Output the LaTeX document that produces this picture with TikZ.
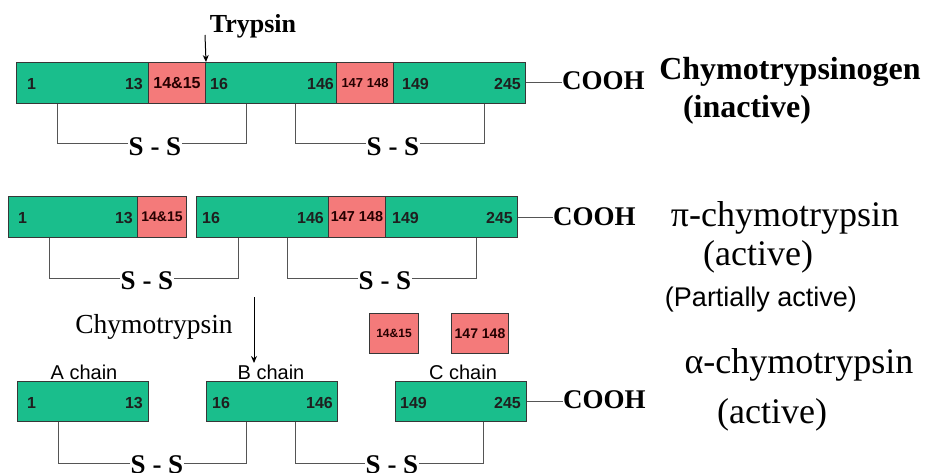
\documentclass[tikz,border=0pt]{standalone}
\usepackage{fontspec}
\setmainfont{Liberation Serif}
\setsansfont{Liberation Sans}
\usetikzlibrary{arrows.meta,calc}
\definecolor{grn}{RGB}{26,190,140}
\definecolor{pnk}{RGB}{244,122,122}
\definecolor{edge}{RGB}{55,55,55}
\definecolor{lnk}{RGB}{85,85,85}
\newcommand{\fs}[1]{\fontsize{#1}{#1}\selectfont}
\tikzset{
  seg/.style={draw=edge, line width=1pt, inner sep=0pt, minimum height=41pt, anchor=north west},
  gseg/.style={seg, fill=grn},
  pseg/.style={seg, fill=pnk, font=\sffamily\bfseries\fs{16}, text=black!85!red},
  num/.style={font=\sffamily\bfseries\fs{16}, text=black!88, inner sep=0pt},
  numw/.style={num, anchor=west},
  nume/.style={num, anchor=east},
  ss/.style={font=\bfseries\fs{27}, inner sep=1pt},
  cooh/.style={font=\bfseries\fs{27}, inner sep=0pt, anchor=base west},
  link/.style={draw=lnk, line width=1pt},
  bigreg/.style={font=\fs{36}, inner sep=0pt, anchor=base},
  bigbold/.style={font=\bfseries\fs{32}, inner sep=0pt, anchor=base},
  chainlbl/.style={font=\sffamily\fs{20}, inner sep=0pt, anchor=base},
  arr/.style={draw=black, line width=1pt, -{Stealth[length=7pt,width=6pt]}}
}
\begin{document}
\begin{tikzpicture}[x=1pt,y=-1pt]
\useasboundingbox[fill=white] (0,0) rectangle (925,473);

% ---------- Row 1: Chymotrypsinogen ----------
\node[gseg, minimum width=132pt] (a1) at (16,62) {};
\node[pseg, minimum width=57pt] (a2) at (148,62) {14\&15};
\node[gseg, minimum width=131pt] (a3) at (205,62) {};
\node[pseg, minimum width=57pt, font=\sffamily\bfseries\fs{13}] (a4) at (336,62) {147 148};
\node[gseg, minimum width=132pt] (a5) at (393,62) {};
\node[numw] (a1l) at ([xshift=11pt,yshift=-1pt]a1.west) {1};
\node[nume] (a1r) at ([xshift=-6pt,yshift=-1pt]a1.east) {13};
\node[numw] (a3l) at ([xshift=5pt,yshift=-1pt]a3.west) {16};
\node[nume] (a3r) at ([xshift=-3pt,yshift=-1pt]a3.east) {146};
\node[numw] (a5l) at ([xshift=9pt,yshift=-1pt]a5.west) {149};
\node[nume] (a5r) at ([xshift=-5pt,yshift=-1pt]a5.east) {245};

\node[font=\bfseries\fs{26}, inner sep=0pt, anchor=base] (tryp) at (253,33) {Trypsin};
\coordinate (tryptop) at (205,35);
\draw[arr] (tryptop) -- (a2.north east);

\node[cooh] (c1) at (562,90) {COOH};
\draw[link] (a5.east) -- (c1.west |- a5.east);
\node[bigbold] (t1) at (790,80) {Chymotrypsinogen};
\node[bigbold] (t1b) at (747,118) {(inactive)};

\node[ss] (s11) at (155,147) {S - S};
\node[ss] (s12) at (393,147) {S - S};
\draw[link] ([xshift=41pt]a1.south west) |- ([yshift=3pt]s11.west);
\draw[link] ([yshift=3pt]s11.east) -| ([xshift=41pt]a3.south west);
\draw[link] ([xshift=90pt]a3.south west) |- ([yshift=3pt]s12.west);
\draw[link] ([yshift=3pt]s12.east) -| ([xshift=91pt]a5.south west);

% ---------- Row 2: pi-chymotrypsin ----------
\node[gseg, minimum width=129pt] (b1) at (8,196) {};
\node[pseg, minimum width=49pt, font=\sffamily\bfseries\fs{14}] (b2) at (137,196) {14\&15};
\node[gseg, minimum width=132pt] (b3) at (196,196) {};
\node[pseg, minimum width=57pt, font=\sffamily\bfseries\fs{14.4}] (b4) at (328,196) {147 148};
\node[gseg, minimum width=132pt] (b5) at (385,196) {};
\node[numw] (b1l) at ([xshift=10pt,yshift=-1pt]b1.west) {1};
\node[nume] (b1r) at ([xshift=-5pt,yshift=-1pt]b1.east) {13};
\node[numw] (b3l) at ([xshift=6pt,yshift=-1pt]b3.west) {16};
\node[nume] (b3r) at ([xshift=-5pt,yshift=-1pt]b3.east) {146};
\node[numw] (b5l) at ([xshift=7pt,yshift=-1pt]b5.west) {149};
\node[nume] (b5r) at ([xshift=-5pt,yshift=-1pt]b5.east) {245};

\node[cooh] (c2) at (553,225) {COOH};
\draw[link] (b5.east) -- (c2.west |- b5.east);
\node[bigreg] (t2) at (785,226) {π-chymotrypsin};
\node[bigreg] (t2b) at (758,265) {(active)};
\node[font=\sffamily\fs{27}, inner sep=0pt, anchor=base] (t2c) at (761,306) {(Partially active)};

\node[ss] (s21) at (147,281) {S - S};
\node[ss] (s22) at (385,281) {S - S};
\draw[link] ([xshift=41pt]b1.south west) |- ([yshift=3pt]s21.west);
\draw[link] ([yshift=3pt]s21.east) -| ([xshift=42pt]b3.south west);
\draw[link] ([xshift=91pt]b3.south west) |- ([yshift=3pt]s22.west);
\draw[link] ([yshift=3pt]s22.east) -| ([xshift=91pt]b5.south west);

% ---------- free peptides ----------
\node[pseg, minimum width=49pt, minimum height=40pt, font=\sffamily\bfseries\fs{12}] (f1) at (369,313) {14\&15};
\node[pseg, minimum width=57pt, minimum height=40pt, font=\sffamily\bfseries\fs{14}] (f2) at (451,313) {147 148};

% ---------- Row 3: alpha-chymotrypsin ----------
\node[gseg, minimum width=131pt, minimum height=40pt] (d1) at (17,381) {};
\node[gseg, minimum width=131pt, minimum height=40pt] (d2) at (206,381) {};
\node[gseg, minimum width=131pt, minimum height=40pt] (d3) at (395,381) {};
\node[numw] (d1l) at ([xshift=10pt,yshift=-1pt]d1.west) {1};
\node[nume] (d1r) at ([xshift=-6pt,yshift=-1pt]d1.east) {13};
\node[numw] (d2l) at ([xshift=6pt,yshift=-1pt]d2.west) {16};
\node[nume] (d2r) at ([xshift=-5pt,yshift=-1pt]d2.east) {146};
\node[numw] (d3l) at ([xshift=5pt,yshift=-1pt]d3.west) {149};
\node[nume] (d3r) at ([xshift=-6pt,yshift=-1pt]d3.east) {245};

\node[chainlbl] (la) at (84,379) {A chain};
\node[chainlbl] (lb) at (271,379) {B chain};
\node[chainlbl] (lc) at (463,379) {C chain};

\node[font=\fs{27.5}, inner sep=0pt, anchor=base] (chy) at (154,333) {Chymotrypsin};
\coordinate (chytop) at (254,297);
\draw[arr] (chytop) -- (254,363);

\node[cooh] (c3) at (563,408) {COOH};
\draw[link] (d3.east) -- (c3.west |- d3.east);
\node[bigreg] (t3) at (799,373) {α-chymotrypsin};
\node[bigreg] (t3b) at (772,423) {(active)};

\node[ss] (s31) at (157,465) {S - S};
\node[ss] (s32) at (392,465) {S - S};
\draw[link] ([xshift=41pt]d1.south west) |- ([yshift=2pt]s31.west);
\draw[link] ([yshift=2pt]s31.east) -| ([xshift=40pt]d2.south west);
\draw[link] ([xshift=89pt]d2.south west) |- ([yshift=2pt]s32.west);
\draw[link] ([yshift=2pt]s32.east) -| ([xshift=88pt]d3.south west);
\end{tikzpicture}
\end{document}
